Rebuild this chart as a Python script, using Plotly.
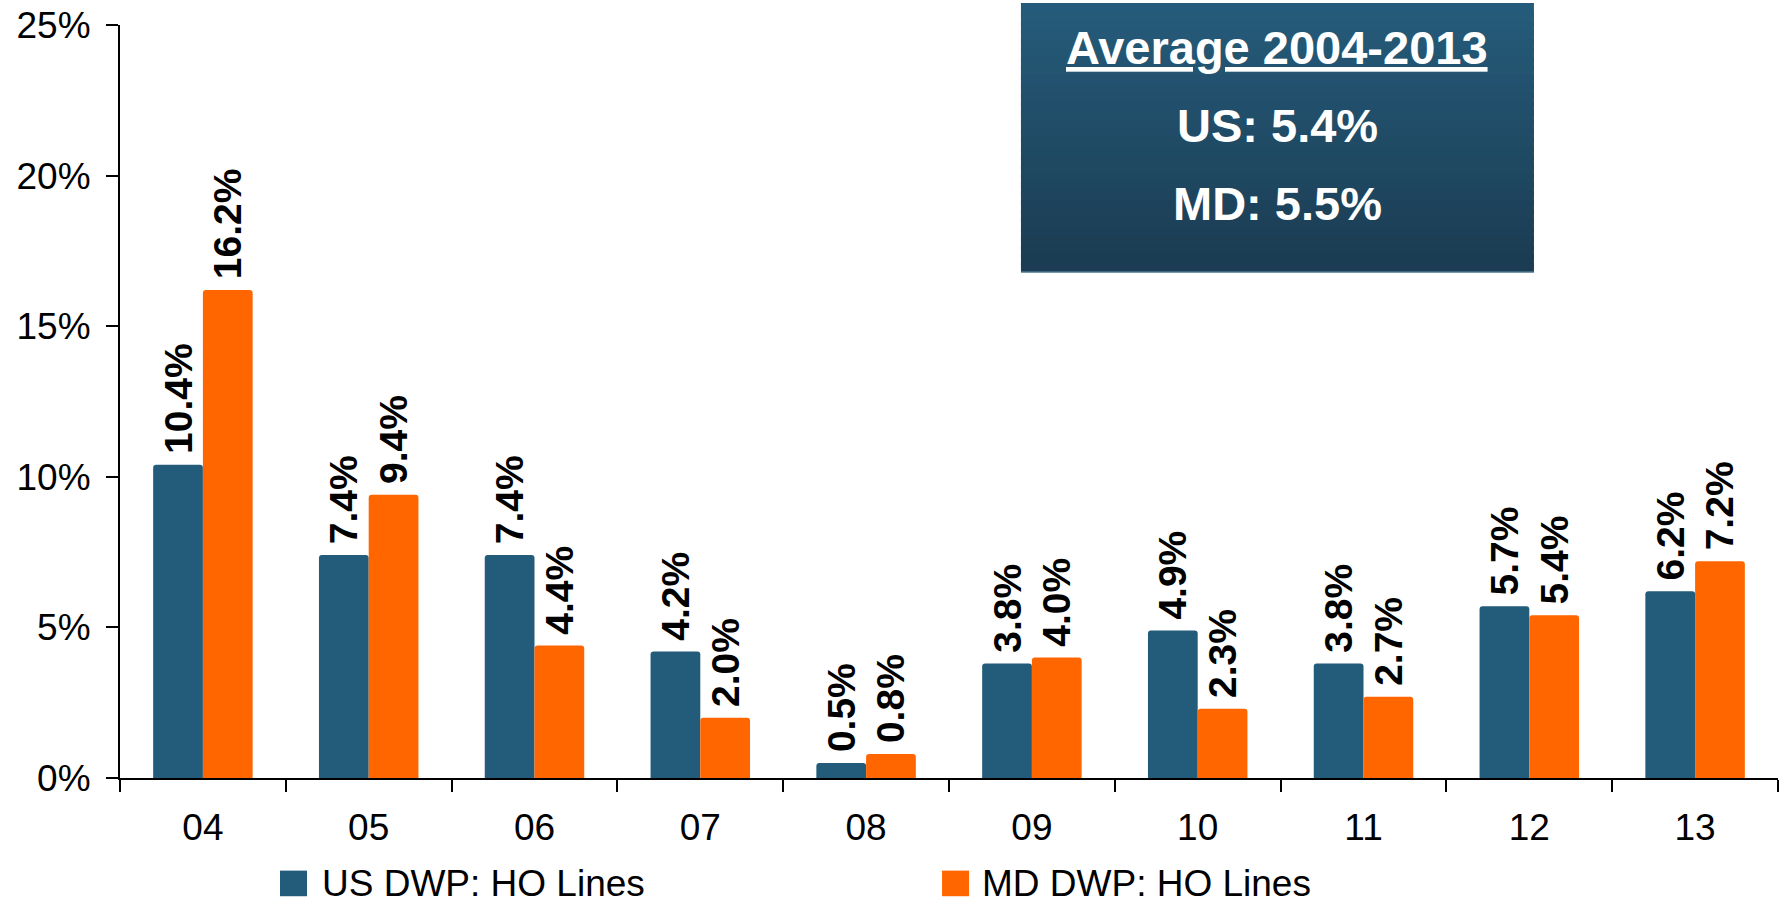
import plotly.graph_objects as go

# Year labels (2004-2013) and annual growth rates, in percent
years = ["04", "05", "06", "07", "08", "09", "10", "11", "12", "13"]
us_growth = [10.4, 7.4, 7.4, 4.2, 0.5, 3.8, 4.9, 3.8, 5.7, 6.2]
md_growth = [16.2, 9.4, 4.4, 2.0, 0.8, 4.0, 2.3, 2.7, 5.4, 7.2]

us_name = "US DWP: HO Lines"
md_name = "MD DWP: HO Lines"
us_color = "#235B7A"
md_color = "#FF6600"

avg_title = "Average 2004-2013"
avg_lines = ["US: 5.4%", "MD: 5.5%"]

y_ticks = [0, 5, 10, 15, 20, 25]
y_tick_text = [f"{v}%" for v in y_ticks]

FONT = "Liberation Sans, Arial, Helvetica, sans-serif"

fig = go.Figure()
for name, vals, color in [(us_name, us_growth, us_color), (md_name, md_growth, md_color)]:
    fig.add_trace(go.Bar(
        x=years, y=vals, name=name,
        marker=dict(color=color, line=dict(width=0), cornerradius=3),
        # leading thin space lifts the rotated label a little off the bar
        text=[f"<b>\u2009{v:.1f}%</b>" for v in vals],
        textposition="outside", textangle=-90, constraintext="none",
        textfont=dict(family=FONT, size=39, color="black"),
        cliponaxis=False, showlegend=False,
    ))

fig.update_layout(
    width=1783, height=904,
    margin=dict(l=120, r=5, t=22, b=126),
    plot_bgcolor="white", paper_bgcolor="white",
    barmode="group", bargap=0.4, bargroupgap=0,
    font=dict(family=FONT, size=37, color="black"),
    xaxis=dict(
        type="category", showline=True, linecolor="black", linewidth=2,
        ticks="outside", tickson="boundaries", ticklen=12, tickwidth=2, tickcolor="black",
        showgrid=False, ticklabelstandoff=16,
        tickfont=dict(family=FONT, size=37, color="black"),
    ),
    yaxis=dict(
        range=[0, 25], tickmode="array", tickvals=y_ticks, ticktext=y_tick_text,
        showline=True, linecolor="black", linewidth=2,
        ticks="outside", ticklen=12, tickwidth=2, tickcolor="black",
        showgrid=False, zeroline=False, ticklabelstandoff=8,
        tickfont=dict(family=FONT, size=37, color="black"),
    ),
)

# Averages panel: vertical gradient built from overlapping bands
x0, x1, y0, y1 = 0.5434, 0.8528, 0.672, 1.0291
top_rgb = (37, 91, 122)
bot_rgb = (27, 60, 82)
n_bands = 30
band_h = (y1 - y0) / n_bands
for i in range(n_bands):
    t = i / (n_bands - 1)
    r, g, b = (round(top_rgb[k] + (bot_rgb[k] - top_rgb[k]) * t) for k in range(3))
    ya = y1 - band_h * i
    yb = max(y0, ya - band_h * 1.6)
    fig.add_shape(type="rect", xref="paper", yref="paper", x0=x0, x1=x1, y0=yb, y1=ya,
                  fillcolor=f"rgb({r},{g},{b})", line=dict(width=0), layer="above")
fig.add_shape(type="line", xref="paper", yref="paper", x0=x0, x1=x1, y0=y0, y1=y0,
              line=dict(color="#4A7890", width=1.5), layer="above")

xc = (x0 + x1) / 2
for text, yy in [(f"<b><u>{avg_title}</u></b>", 0.9696),
                 (f"<b>{avg_lines[0]}</b>", 0.8664),
                 (f"<b>{avg_lines[1]}</b>", 0.7632)]:
    fig.add_annotation(x=xc, y=yy, xref="paper", yref="paper", text=text, showarrow=False,
                       xanchor="center", yanchor="middle",
                       font=dict(family=FONT, size=47, color="white"))

# Legend swatches and labels below the axis
for name, color, sx0, sx1, tx in [(us_name, us_color, 0.0965, 0.1128, 0.1206),
                                  (md_name, md_color, 0.4958, 0.5121, 0.5187)]:
    fig.add_shape(type="rect", xref="paper", yref="paper", x0=sx0, x1=sx1, y0=-0.157, y1=-0.123,
                  fillcolor=color, line=dict(width=0))
    fig.add_annotation(x=tx, y=-0.140, xref="paper", yref="paper", text=name, showarrow=False,
                       xanchor="left", yanchor="middle",
                       font=dict(family=FONT, size=37, color="black"))

fig.write_html("out.html")
